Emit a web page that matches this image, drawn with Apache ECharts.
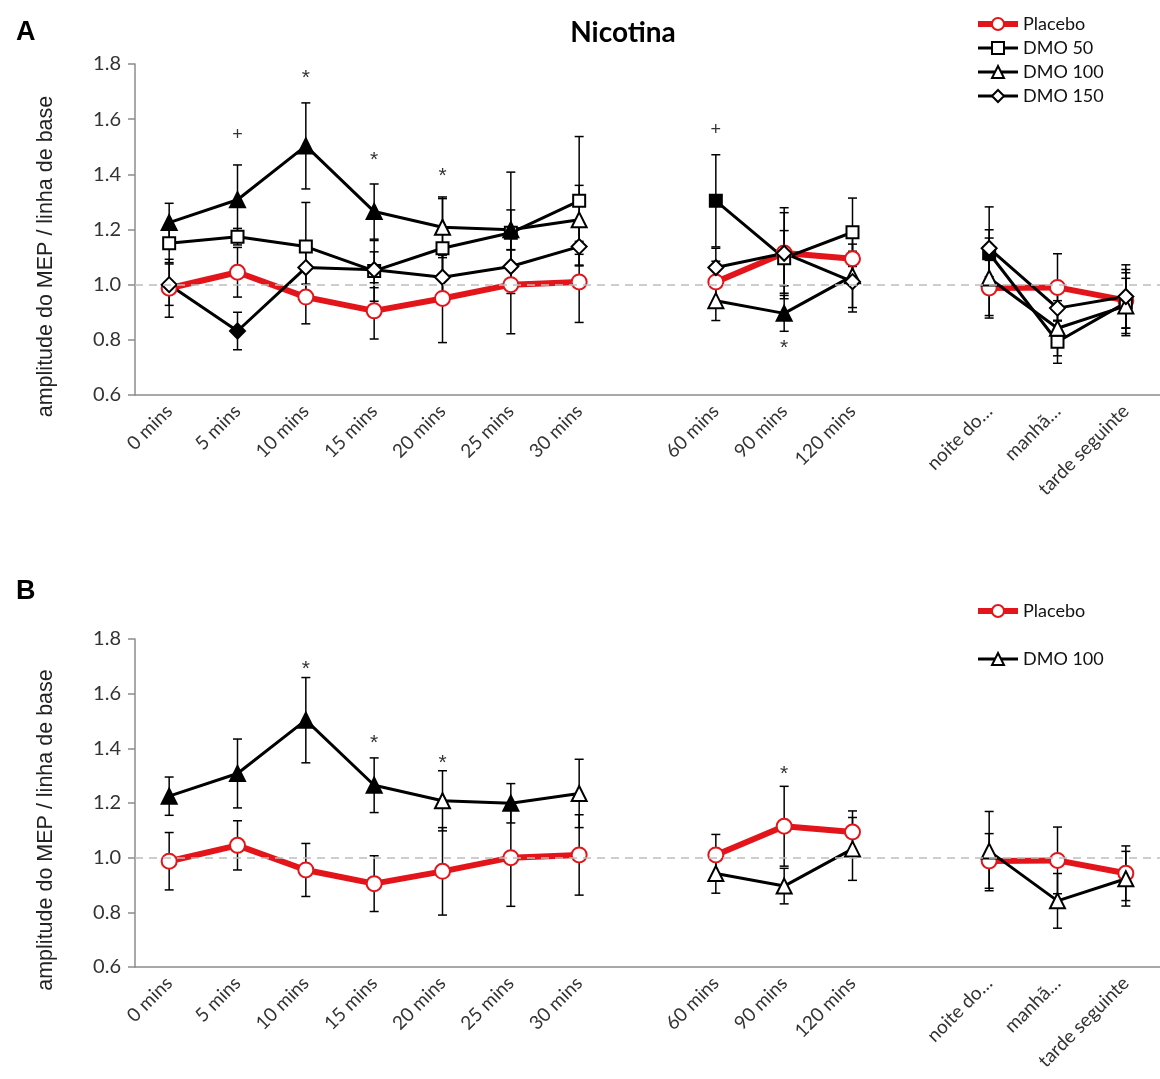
<!DOCTYPE html>
<html>
<head>
<meta charset="utf-8">
<title>Nicotina</title>
<script src="https://cdn.jsdelivr.net/npm/echarts@6/dist/echarts.min.js"></script>
<style>
  html, body { margin: 0; padding: 0; background: #fff; }
  #chart { width: 1160px; height: 1079px; }
</style>
</head>
<body>
<div id="chart"></div>
<script>
// time points (two blank slots separate the three blocks)
const categories = ['0 mins', '5 mins', '10 mins', '15 mins', '20 mins', '25 mins', '30 mins', ' ',
  '60 mins', '90 mins', '120 mins', '  ', 'noite do…', 'manhã…', 'tarde seguinte']
const yTicks = [0.6, 0.8, 1.0, 1.2, 1.4, 1.6, 1.8]

// means and error bars
const placebo = [0.987, 1.045, 0.955, 0.905, 0.950, 1.000, 1.010, null, 1.010, 1.115, 1.094, null, 0.988, 0.990, 0.943]
const placeboErr = [0.105, 0.09, 0.097, 0.102, 0.16, 0.178, 0.147, null, 0.075, 0.146, 0.077, null, 0.1, 0.122, 0.1]
const dmo50 = [1.150, 1.174, 1.138, 1.050, 1.132, 1.188, 1.304, null, 1.304, 1.096, 1.190, null, 1.114, 0.793, 0.935]
const dmo50Err = [0.07, 0.03, 0.16, 0.11, 0.18, 0.22, 0.233, null, 0.167, 0.10, 0.124, null, 0.085, 0.078, 0.12]
const dmo100 = [1.225, 1.308, 1.503, 1.265, 1.208, 1.199, 1.235, null, 0.942, 0.896, 1.032, null, 1.024, 0.842, 0.923]
const dmo100Err = [0.07, 0.126, 0.156, 0.1, 0.11, 0.072, 0.125, null, 0.072, 0.065, 0.115, null, 0.145, 0.1, 0.1]
const dmo150 = [1.0, 0.832, 1.062, 1.054, 1.027, 1.066, 1.138, null, 1.062, 1.114, 1.011, null, 1.132, 0.915, 0.957]
const dmo150Err = [0.075, 0.068, 0.06, 0.065, 0.08, 0.06, 0.07, null, 0.07, 0.165, 0.11, null, 0.15, 0.08, 0.115]

// points drawn with a filled marker
const dmo50FilledA = [8, 12]
const dmo100FilledA = [0, 1, 2, 3, 5, 9]
const dmo150FilledA = [1]
const dmo100FilledB = [0, 1, 2, 3, 5]

// significance marks
const marksACat = [1, 2, 3, 4, 8, 9]
const marksAVal = [1.541, 1.761, 1.462, 1.404, 1.559, 0.781]
const marksAText = ['+', '*', '*', '*', '+', '*']
const marksBCat = [2, 3, 4, 9]
const marksBVal = [1.702, 1.431, 1.358, 1.315]
const marksBText = ['*', '*', '*', '*']

const RED = '#e3151b'
const FONT = 'Lato'

const points = (vals, filled, fillColor) => vals.map((v, i) => {
  if (v === null) return null
  return filled.includes(i) ? { value: v, itemStyle: { color: fillColor } } : v
})

const bars = (vals, errs) => {
  const out = []
  vals.forEach((v, i) => {
    if (v !== null) out.push([i, v - errs[i], v + errs[i]])
  })
  return out
}

const lineSeries = (name, vals, filled, symbol, size, color, width, gi) => ({
  name: name,
  type: 'line',
  xAxisIndex: gi,
  yAxisIndex: gi,
  data: points(vals, filled, '#000'),
  connectNulls: false,
  symbol: symbol,
  symbolSize: size,
  showAllSymbol: true,
  lineStyle: { color: color, width: width },
  itemStyle: { color: '#fff', borderColor: color, borderWidth: 2 },
  z: 3,
  animation: false
})

const errSeries = (vals, errs, gi) => ({
  type: 'custom',
  xAxisIndex: gi,
  yAxisIndex: gi,
  data: bars(vals, errs),
  z: 2,
  silent: true,
  animation: false,
  renderItem: (params, api) => {
    const lo = api.coord([api.value(0), api.value(1)])
    const hi = api.coord([api.value(0), api.value(2)])
    const w = 4.5
    const st = { stroke: '#000', lineWidth: 1.5 }
    return {
      type: 'group',
      children: [
        { type: 'line', shape: { x1: lo[0], y1: lo[1], x2: hi[0], y2: hi[1] }, style: st },
        { type: 'line', shape: { x1: lo[0] - w, y1: lo[1], x2: lo[0] + w, y2: lo[1] }, style: st },
        { type: 'line', shape: { x1: hi[0] - w, y1: hi[1], x2: hi[0] + w, y2: hi[1] }, style: st }
      ]
    }
  }
})

const markSeries = (cats, vals, texts, gi) => ({
  type: 'custom',
  xAxisIndex: gi,
  yAxisIndex: gi,
  data: cats.map((c, i) => [c, vals[i]]),
  z: 4,
  silent: true,
  animation: false,
  renderItem: (params, api) => {
    const p = api.coord([api.value(0), api.value(1)])
    const t = texts[params.dataIndex]
    return {
      type: 'text',
      x: p[0],
      y: p[1] + (t === '*' ? 3 : 0),
      style: {
        text: t,
        align: 'center',
        verticalAlign: 'middle',
        font: (t === '*' ? '21px ' : '18px ') + 'Liberation Sans',
        fill: '#333'
      }
    }
  }
})

const baseLine = {
  symbol: 'none',
  silent: true,
  label: { show: false },
  lineStyle: { color: '#bdbdbd', type: [8, 6], width: 1.5 },
  data: [{ yAxis: 1 }]
}

const xAxis = (gi) => ({
  type: 'category',
  gridIndex: gi,
  data: categories,
  boundaryGap: true,
  axisLine: { lineStyle: { color: '#8c8c8c', width: 1.5 } },
  axisTick: { interval: 0, length: 6, lineStyle: { color: '#8c8c8c', width: 1.5 } },
  axisLabel: { interval: 0, rotate: 45, margin: 13, fontSize: 19, fontFamily: FONT, color: '#333' }
})

const yAxis = (gi) => ({
  type: 'value',
  gridIndex: gi,
  min: yTicks[0],
  max: yTicks[yTicks.length - 1],
  interval: 0.2,
  name: 'amplitude do MEP / linha de base',
  nameLocation: 'middle',
  nameGap: 78,
  nameTextStyle: { fontSize: 21.5, fontFamily: 'Liberation Sans', color: '#222', padding: [0, 54, 0, 0] },
  splitLine: { show: false },
  axisLine: { show: true, lineStyle: { color: '#8c8c8c', width: 1.5 } },
  axisTick: { show: true, length: 7, lineStyle: { color: '#8c8c8c', width: 1.5 } },
  axisLabel: { margin: 14, fontSize: 20, fontFamily: FONT, color: '#333', formatter: (v) => v.toFixed(1) }
})

const legendText = { fontSize: 18, fontFamily: FONT, color: '#111', lineHeight: 20 }
const redItem = { name: 'Placebo', lineStyle: { width: 6 } }
const blackItem = (n) => ({ name: n, lineStyle: { width: 3 } })

const placeboA = lineSeries('Placebo', placebo, [], 'circle', 15, RED, 6, 0)
placeboA.markLine = baseLine
const placeboB = lineSeries('Placebo', placebo, [], 'circle', 15, RED, 6, 1)
placeboB.markLine = baseLine

const option = {
  backgroundColor: '#fff',
  animation: false,
  title: [
    { text: 'Nicotina', left: 618, top: 14, textAlign: 'center', textStyle: { fontSize: 28, fontWeight: 'bold', fontFamily: FONT, color: '#000' } },
    { text: 'A', left: 11, top: 14, textStyle: { fontSize: 27, fontWeight: 'bold', fontFamily: 'Liberation Sans', color: '#000' } },
    { text: 'B', left: 11, top: 573, textStyle: { fontSize: 27, fontWeight: 'bold', fontFamily: 'Liberation Sans', color: '#000' } }
  ],
  legend: [
    {
      data: [redItem, blackItem('DMO 50'), blackItem('DMO 100'), blackItem('DMO 150')],
      orient: 'vertical', left: 970, top: 9, itemWidth: 40, itemHeight: 15, itemGap: 4,
      textStyle: legendText
    },
    {
      data: [redItem, blackItem('DMO 100')],
      orient: 'vertical', left: 970, top: 596, itemWidth: 40, itemHeight: 15, itemGap: 28,
      textStyle: legendText
    }
  ],
  grid: [
    { left: 135, top: 64, width: 1035, height: 331 },
    { left: 135, top: 639, width: 1035, height: 328 }
  ],
  xAxis: [xAxis(0), xAxis(1)],
  yAxis: [yAxis(0), yAxis(1)],
  series: [
    errSeries(placebo, placeboErr, 0),
    errSeries(dmo50, dmo50Err, 0),
    errSeries(dmo100, dmo100Err, 0),
    errSeries(dmo150, dmo150Err, 0),
    placeboA,
    lineSeries('DMO 50', dmo50, dmo50FilledA, 'rect', 12, '#000', 3, 0),
    lineSeries('DMO 100', dmo100, dmo100FilledA, 'triangle', 15, '#000', 3, 0),
    lineSeries('DMO 150', dmo150, dmo150FilledA, 'diamond', 15, '#000', 3, 0),
    markSeries(marksACat, marksAVal, marksAText, 0),

    errSeries(placebo, placeboErr, 1),
    errSeries(dmo100, dmo100Err, 1),
    placeboB,
    lineSeries('DMO 100', dmo100, dmo100FilledB, 'triangle', 15, '#000', 3, 1),
    markSeries(marksBCat, marksBVal, marksBText, 1)
  ]
}

const chart = echarts.init(document.getElementById('chart'), null, { renderer: 'canvas' })
chart.setOption(option)
window.addEventListener('resize', () => chart.resize())
</script>
</body>
</html>
